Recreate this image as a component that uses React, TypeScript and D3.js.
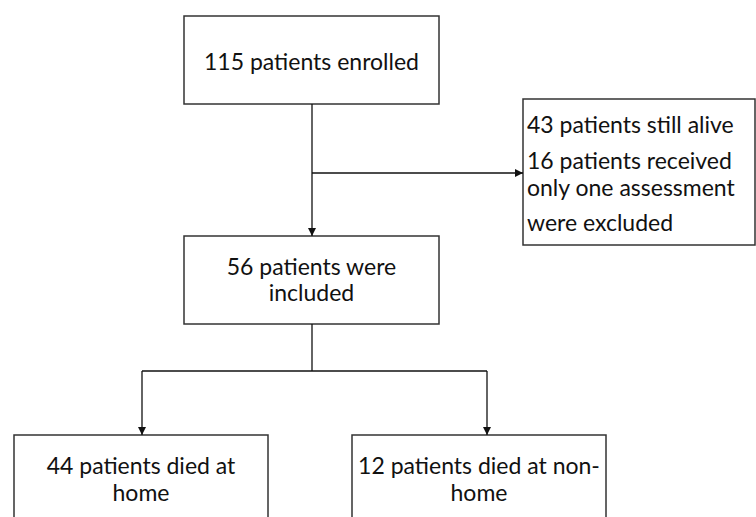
import React, { useEffect, useRef } from 'react';
import * as d3 from 'd3';

// box labels (one entry per text line)
const topLabel = ['115 patients enrolled'];
const includedLabel = ['56 patients were', 'included'];
const excludedLabel = ['43 patients still alive', '16 patients received', 'only one assessment', 'were excluded'];
const homeLabel = ['44 patients died at', 'home'];
const nonHomeLabel = ['12 patients died at non-', 'home'];

const FONT = 'Lato, "Open Sans", sans-serif';

const App = () => {
  const ref = useRef<SVGSVGElement>(null);

  useEffect(() => {
    const svg = d3.select(ref.current);
    svg.selectAll('*').remove();

    const defs = svg.append('defs');
    defs.append('marker')
      .attr('id', 'arrow')
      .attr('viewBox', '0 0 10 10')
      .attr('refX', 10)
      .attr('refY', 5)
      .attr('markerWidth', 9)
      .attr('markerHeight', 8)
      .attr('markerUnits', 'userSpaceOnUse')
      .attr('orient', 'auto')
      .append('path')
      .attr('d', 'M0,0L10,5L0,10Z')
      .attr('fill', '#111');

    const boxes = [
      { x: 184, y: 16, w: 255, h: 88, lines: topLabel, align: 'middle', ys: [61] },
      { x: 184, y: 236, w: 255, h: 88, lines: includedLabel, align: 'middle', ys: [266, 292] },
      { x: 523, y: 99, w: 232, h: 146, lines: excludedLabel, align: 'start', ys: [124, 160, 187, 222] },
      { x: 14, y: 435, w: 254, h: 110, lines: homeLabel, align: 'middle', ys: [465, 492] },
      { x: 352, y: 435, w: 254, h: 110, lines: nonHomeLabel, align: 'middle', ys: [465, 492] },
    ];

    const g = svg.append('g');
    boxes.forEach(b => {
      g.append('rect')
        .attr('x', b.x)
        .attr('y', b.y)
        .attr('width', b.w)
        .attr('height', b.h)
        .attr('fill', '#fff')
        .attr('stroke', '#333')
        .attr('stroke-width', 1.5);
      b.lines.forEach((t, i) => {
        g.append('text')
          .attr('x', b.align === 'middle' ? b.x + b.w / 2 : b.x + 4)
          .attr('y', b.ys[i])
          .attr('text-anchor', b.align)
          .attr('dominant-baseline', 'central')
          .attr('font-family', FONT)
          .attr('font-size', 23)
          .attr('fill', '#111')
          .text(t);
      });
    });

    const links: { pts: [number, number][]; arrow: boolean }[] = [
      { pts: [[312, 104], [312, 236]], arrow: true },
      { pts: [[312, 173], [523, 173]], arrow: true },
      { pts: [[312, 324], [312, 371]], arrow: false },
      { pts: [[142, 371], [487, 371]], arrow: false },
      { pts: [[142, 371], [142, 435]], arrow: true },
      { pts: [[487, 371], [487, 435]], arrow: true },
    ];
    const line = d3.line();
    svg.append('g')
      .selectAll('path')
      .data(links)
      .enter()
      .append('path')
      .attr('d', d => line(d.pts))
      .attr('fill', 'none')
      .attr('stroke', '#111')
      .attr('stroke-width', 1.3)
      .attr('marker-end', d => (d.arrow ? 'url(#arrow)' : null));
  }, []);

  return (
    <svg
      ref={ref}
      width={756}
      height={517}
      style={{ position: 'absolute', left: 0, top: 0, background: '#fff' }}
    />
  );
};

export default App;
